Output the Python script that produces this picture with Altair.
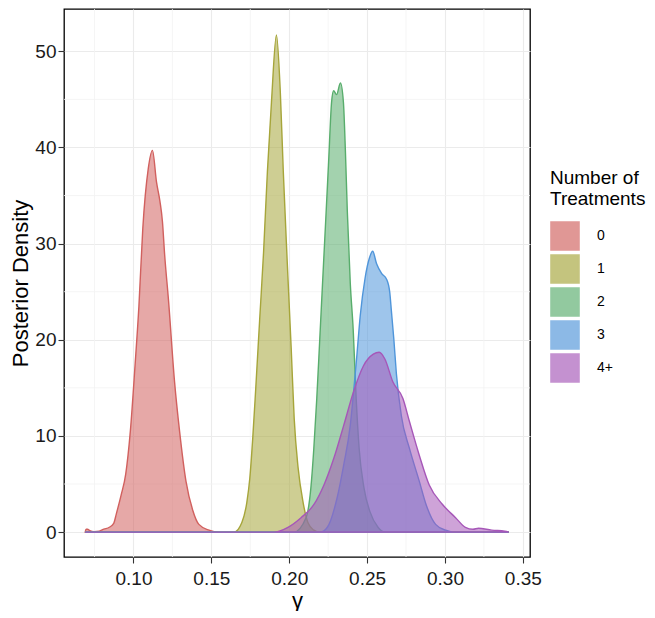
import altair as alt
import pandas as pd

groups = ["0", "1", "2", "3", "4+"]

g0_x = [0.069, 0.0696, 0.0705, 0.072, 0.0747, 0.078, 0.081, 0.0845, 0.0873, 0.089, 0.092, 0.095,
        0.098, 0.101, 0.1035, 0.106, 0.1095, 0.1122, 0.1148, 0.117, 0.1186, 0.120, 0.1225, 0.1264,
        0.1296, 0.1337, 0.138, 0.142, 0.1485, 0.155, 0.341]
g0_y = [0, 0.3, 0.3, 0.15, 0.05, 0.1, 0.3, 0.5, 0.9, 1.9, 3.8, 6.0,
        10.5, 17.3, 23.5, 31.6, 37.8, 39.7, 36.4, 34.4, 32.3, 28.9, 24.1, 15.6,
        10.5, 5.3, 2.3, 0.8, 0.2, 0, 0]

g1_x = [0.069, 0.1646, 0.1696, 0.1728, 0.1747, 0.1766, 0.1785, 0.181, 0.1835, 0.186, 0.1886, 0.1918,
        0.1943, 0.1962, 0.1987, 0.2013, 0.2032, 0.2057, 0.2089, 0.212, 0.2158, 0.219, 0.341]
g1_y = [0, 0, 1.0, 3.1, 5.6, 9.8, 14.9, 22.0, 29.0, 37.5, 44.7, 51.7,
        45.7, 37.5, 28.2, 19.0, 11.8, 6.7, 3.1, 1.0, 0.2, 0, 0]

g2_x = [0.069, 0.203, 0.2108, 0.2139, 0.2158, 0.2177, 0.2196, 0.2215, 0.2234, 0.2253, 0.2272, 0.2285,
        0.2304, 0.2329, 0.2348, 0.2361, 0.2373, 0.2392, 0.2411, 0.243, 0.2449, 0.248, 0.2519, 0.257,
        0.2614, 0.341]
g2_y = [0, 0, 1.5, 4.6, 8.7, 13.9, 20.0, 26.2, 32.3, 38.5, 44.7, 45.9,
        45.5, 46.7, 44.7, 39.5, 33.4, 25.9, 21.0, 13.9, 8.7, 4.6, 2.1, 0.5,
        0, 0]

g3_x = [0.069, 0.220, 0.2245, 0.2308, 0.235, 0.2392, 0.2413, 0.2435, 0.2456, 0.2487, 0.2515, 0.2536,
        0.2561, 0.2593, 0.2625, 0.2645, 0.2656, 0.2672, 0.2688, 0.272, 0.2772, 0.2835, 0.2878, 0.294,
        0.3004, 0.305, 0.341]
g3_y = [0, 0, 0.5, 3.6, 7.0, 11.1, 14.5, 18.5, 22.5, 26.4, 28.5, 29.2,
        27.9, 26.9, 26.3, 25.0, 23.0, 20.0, 16.5, 12.1, 8.7, 5.3, 2.9, 0.8,
        0.2, 0, 0]

g4_x = [0.069, 0.190, 0.1992, 0.2076, 0.216, 0.2223, 0.2287, 0.235, 0.2413, 0.2477, 0.254, 0.2578,
        0.2614, 0.2666, 0.273, 0.2772, 0.2835, 0.2899, 0.2983, 0.3068, 0.3131, 0.318, 0.3215, 0.330,
        0.3384, 0.341]
g4_y = [0, 0, 0.5, 1.5, 2.9, 4.9, 7.7, 11.1, 14.6, 17.3, 18.5, 18.7,
        18.0, 15.6, 13.9, 11.5, 8.0, 4.9, 2.9, 1.5, 0.5, 0.3, 0.4, 0.2,
        0.1, 0]

x_ticks = [0.10, 0.15, 0.20, 0.25, 0.30, 0.35]
y_ticks = [0, 10, 20, 30, 40, 50]
x_minor = [0.075, 0.125, 0.175, 0.225, 0.275, 0.325]
y_minor = [5, 15, 25, 35, 45]

line_colors = ["#D1605E", "#A6A53A", "#58AD6C", "#4F95DA", "#A657B8"]

rows = []
for g, xs, ys in zip(groups, [g0_x, g1_x, g2_x, g3_x, g4_x], [g0_y, g1_y, g2_y, g3_y, g4_y]):
    for xv, yv in zip(xs, ys):
        rows.append({"group": g, "gamma": xv, "density": yv})
df = pd.DataFrame(rows)

xscale = alt.Scale(domain=[0.0554, 0.3546], nice=False, zero=False)
yscale = alt.Scale(domain=[-2.59, 54.4], nice=False, zero=False)
cscale = alt.Scale(domain=groups, range=line_colors)

grid_color = "#EBEBEB"

minor_v = alt.Chart(pd.DataFrame({"v": x_minor})).mark_rule(
    color="#F3F3F3", strokeWidth=0.8
).encode(x=alt.X("v:Q", scale=xscale))

minor_h = alt.Chart(pd.DataFrame({"v": y_minor})).mark_rule(
    color="#F3F3F3", strokeWidth=0.8
).encode(y=alt.Y("v:Q", scale=yscale))

leg = alt.Legend(title=["Number of", "Treatments"], orient="none", legendX=486, legendY=160)

areas = alt.Chart(df).mark_area(
    fillOpacity=0.55, strokeWidth=1.4, interpolate="monotone"
).encode(
    x=alt.X("gamma:Q", scale=xscale, title="γ",
            axis=alt.Axis(values=x_ticks, format=".2f", grid=True, gridColor=grid_color,
                          gridWidth=1.1, labelPadding=6, titlePadding=2)),
    y=alt.Y("density:Q", scale=yscale, title="Posterior Density", stack=None,
            axis=alt.Axis(values=y_ticks, grid=True, gridColor=grid_color, gridWidth=1.1,
                          labelPadding=2, titlePadding=2)),
    fill=alt.Fill("group:N", scale=cscale, sort=groups, legend=leg),
    stroke=alt.Stroke("group:N", scale=cscale, sort=groups, legend=leg),
)

chart = alt.layer(minor_v, minor_h, areas).properties(
    width=466, height=548,
    padding={"left": 1, "top": 0, "right": 0, "bottom": 0},
).configure_view(
    stroke="#000000", strokeWidth=1.3
).configure_axis(
    domain=False,
    ticks=True, tickColor="#333333", tickSize=6, tickWidth=1.1,
    labelFont="Liberation Sans", labelFontSize=19, labelColor="#1A1A1A",
    titleFont="Liberation Sans", titleFontSize=22, titleFontWeight="normal", titleColor="#000000",
).configure_legend(
    titleFont="Liberation Sans", titleFontSize=19, titleFontWeight="normal", titleColor="#000000",
    labelFont="Liberation Sans", labelFontSize=14, labelColor="#000000",
    symbolType="square", symbolSize=760, symbolStrokeWidth=2, symbolOpacity=0.65,
    rowPadding=-20, titlePadding=12, padding=0, labelOffset=17,
)

chart.save("out.html", embed_options={"renderer": "svg", "actions": False})
